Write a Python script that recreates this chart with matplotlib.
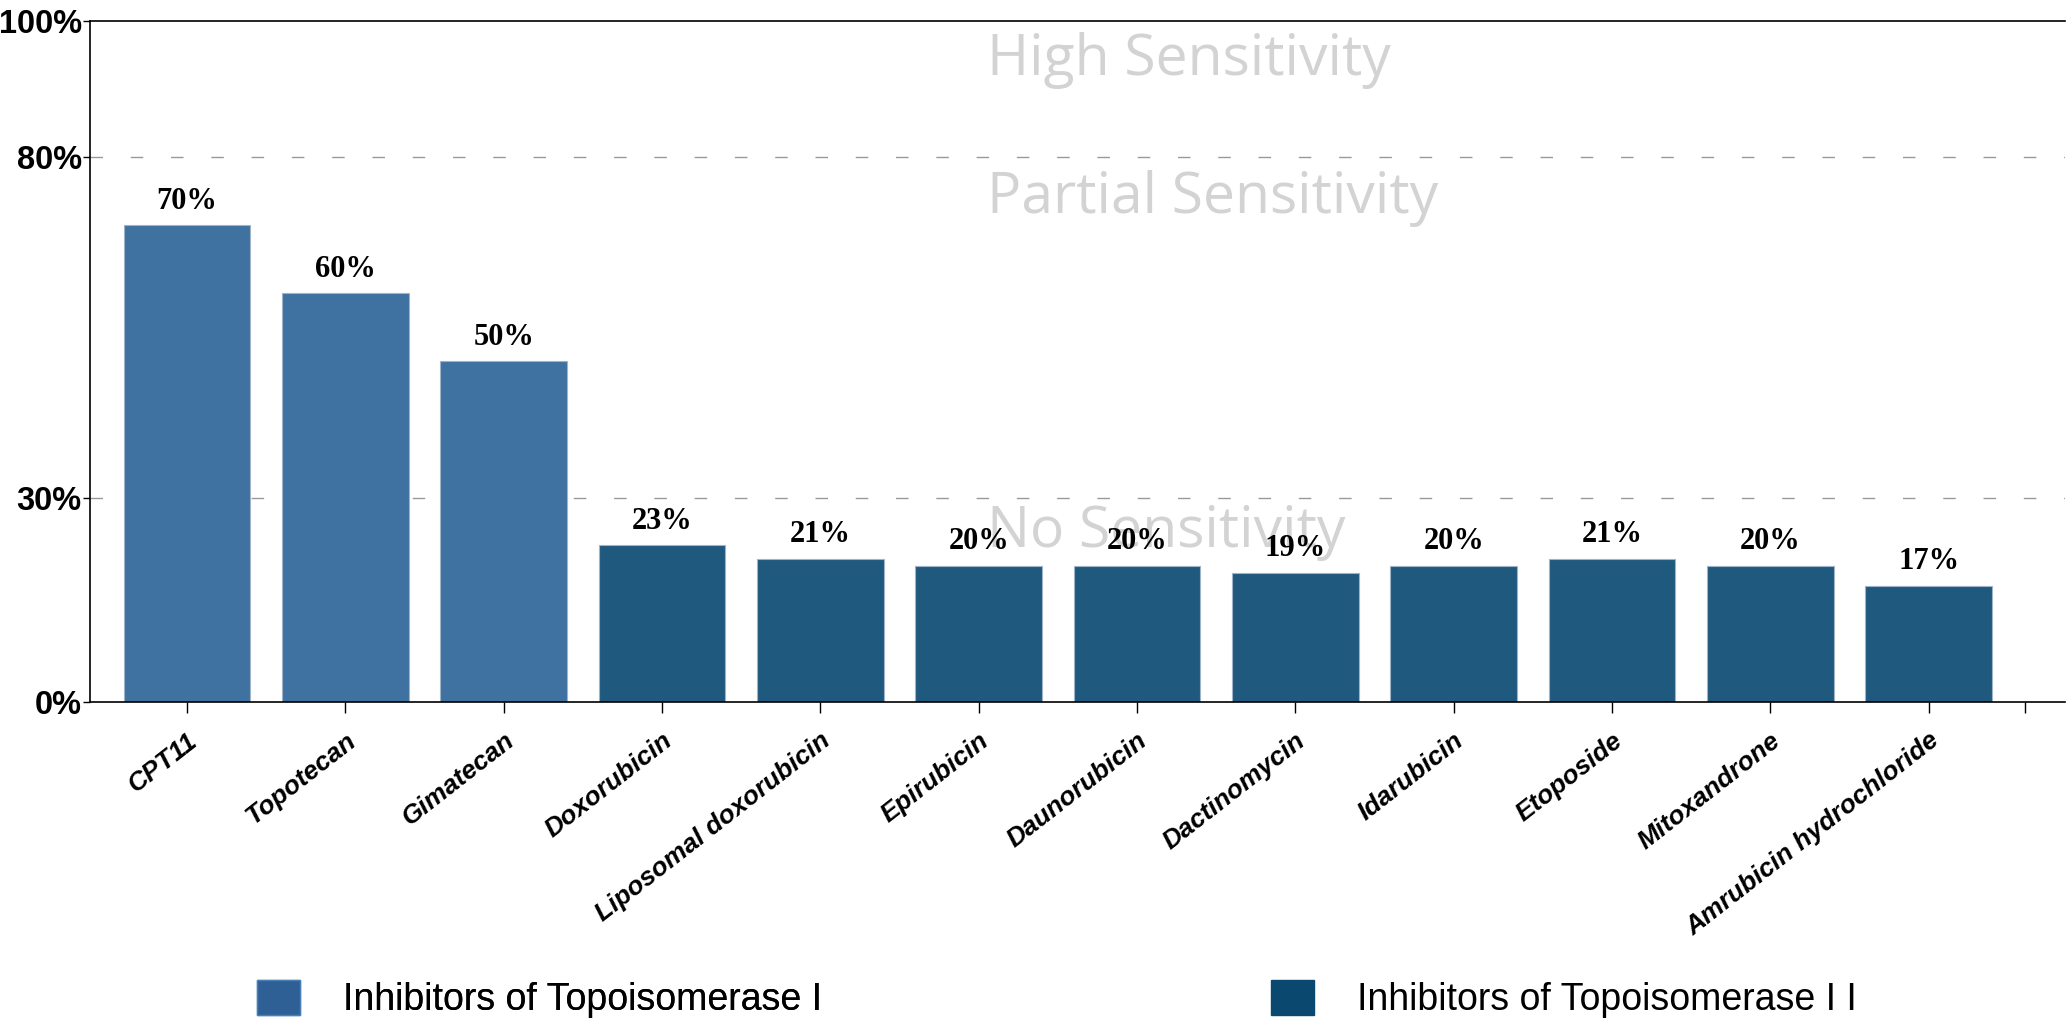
import numpy as np
import matplotlib
matplotlib.use('Agg')
import matplotlib.pyplot as plt
import matplotlib.transforms as mtransforms
from matplotlib.patches import Patch

drugs = ['CPT11', 'Topotecan', 'Gimatecan', 'Doxorubicin', 'Liposomal doxorubicin',
         'Epirubicin', 'Daunorubicin', 'Dactinomycin', 'Idarubicin', 'Etoposide',
         'Mitoxandrone', 'Amrubicin hydrochloride']
sensitivity = [70, 60, 50, 23, 21, 20, 20, 19, 20, 21, 20, 17]
group = ['I', 'I', 'I', 'II', 'II', 'II', 'II', 'II', 'II', 'II', 'II', 'II']

y_ticks = [0, 30, 80, 100]
thresholds = [30, 80]
zones = ['High Sensitivity', 'Partial Sensitivity', 'No Sensitivity']
zone_y = [94.2, 73.9, 24.9]

bar_colors = {'I': '#3F72A0', 'II': '#1F597D'}
legend_colors = {'I': '#2E6096', 'II': '#0A4870'}

fig = plt.figure(figsize=(20.69, 10.24), dpi=100)
ax = fig.add_axes([0.0435, 0.3145, 0.9545, 0.665])

x = np.arange(len(drugs))
colors = [bar_colors[g] for g in group]
bars = ax.bar(x, sensitivity, width=0.8, color=colors, edgecolor='#9fb4c8', linewidth=0.8, zorder=2)

for xi, v in zip(x, sensitivity):
    ax.annotate(f'{v}%', (xi, v), xytext=(0, 7), textcoords='offset points',
                ha='center', va='bottom', fontsize=22, fontweight='bold',
                family='Liberation Serif', zorder=4)

for t in thresholds:
    ax.axhline(t, color='#999999', linewidth=1.0, dashes=(9, 20), zorder=1)

for label, yz in zip(zones, zone_y):
    ax.text(5.05, yz, label, fontsize=41, color='#D3D3D3', family='Open Sans',
            ha='left', va='center', zorder=3)

ax.set_ylim(0, 100)
ax.set_xlim(-0.613, 11.86)
ax.set_yticks(y_ticks)
ax.set_yticklabels([f'{t}%' for t in y_ticks], fontsize=23.5, fontweight='bold',
                   family='Liberation Sans')

ax.set_xticks(list(x) + [11.61])
ax.set_xticklabels(drugs + [''], rotation=38, ha='right', va='top', rotation_mode='anchor',
                   fontsize=19, fontweight='bold', fontstyle='italic', family='Liberation Sans')
shift = mtransforms.ScaledTranslation(-6 / 100, 0, fig.dpi_scale_trans)
for lab in ax.get_xticklabels():
    lab.set_transform(lab.get_transform() + shift)
ax.tick_params(axis='x', length=8, width=1, pad=11)
ax.tick_params(axis='y', length=5, width=1, pad=1)

ax.spines['right'].set_visible(False)
for s in ['left', 'bottom', 'top']:
    ax.spines[s].set_linewidth(1.2)

leg1 = fig.legend(handles=[Patch(facecolor=legend_colors['I'], edgecolor='#4a80b8', label='Inhibitors of Topoisomerase I')],
                  loc='center left', bbox_to_anchor=(257 / 2069, 1 - 999 / 1024), frameon=False,
                  prop={'family': 'Liberation Sans', 'size': 27}, handlelength=1.15, handleheight=1.05,
                  handletextpad=1.15, borderpad=0, borderaxespad=0)
fig.add_artist(leg1)
fig.legend(handles=[Patch(facecolor=legend_colors['II'], edgecolor='#0A4870', label='Inhibitors of Topoisomerase I I')],
           loc='center left', bbox_to_anchor=(1271 / 2069, 1 - 999 / 1024), frameon=False,
           prop={'family': 'Liberation Sans', 'size': 27}, handlelength=1.15, handleheight=1.05,
           handletextpad=1.15, borderpad=0, borderaxespad=0)

fig.savefig('out.png', dpi=100)
